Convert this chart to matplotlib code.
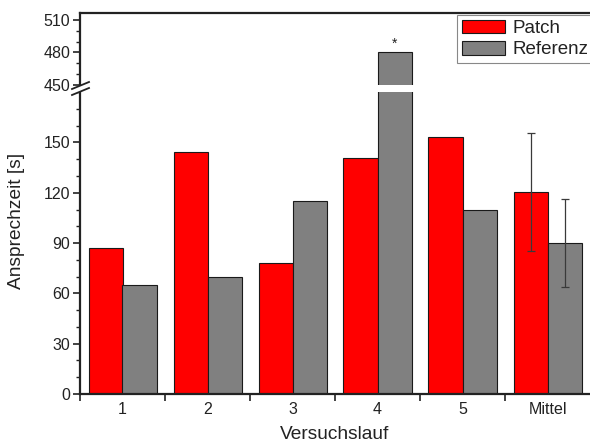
import numpy as np
import matplotlib
matplotlib.use("Agg")
import matplotlib.pyplot as plt
from matplotlib.patches import Rectangle, Polygon
from matplotlib.lines import Line2D
import matplotlib.transforms as mtransforms

plt.rcParams['font.family'] = ['Liberation Sans', 'DejaVu Sans']

categories = ["1", "2", "3", "4", "5", "Mittel"]
patch_vals = [87, 144, 78, 141, 153, 120.6]
referenz_vals = [65, 70, 115, 480, 110, 90]
patch_err = [None, None, None, None, None, 35.2]
referenz_err = [None, None, None, None, None, 26.1]
lower_ticks = [0, 30, 60, 90, 120, 150]
upper_ticks = [450, 480, 510]
lower_minor = [10, 20, 40, 50, 70, 80, 100, 110, 130, 140, 160, 170, 180]
upper_minor = [460, 470, 490, 500]

# piecewise scale for the broken y axis
BRK_LO, BRK_HI = 184.0, 450.0
SQUEEZE = 0.001
K_UP = 0.645
T_BRK = BRK_LO + (BRK_HI - BRK_LO) * SQUEEZE


def fwd(v):
    v = np.asarray(v, dtype=float)
    return np.where(v <= BRK_LO, v,
                    np.where(v < BRK_HI, BRK_LO + (v - BRK_LO) * SQUEEZE,
                             T_BRK + (v - BRK_HI) * K_UP))


def inv(t):
    t = np.asarray(t, dtype=float)
    return np.where(t <= BRK_LO, t,
                    np.where(t < T_BRK, BRK_LO + (t - BRK_LO) / SQUEEZE,
                             BRK_HI + (t - T_BRK) / K_UP))


W, H = 590, 448
fig = plt.figure(figsize=(W / 100, H / 100), dpi=100)
ax = fig.add_axes([80 / W, 1 - 394 / H, 510 / W, 381 / H])
ax.set_yscale('function', functions=(fwd, inv))
ax.set_xlim(0.5, 6.5)
ax.set_ylim(0, 516.5)

x = np.arange(1, len(categories) + 1)
bw = 0.4
red = '#ff0000'
grey = '#808080'
edge = '#1a1a1a'
ax.bar(x - bw / 2, patch_vals, bw, color=red, edgecolor=edge, linewidth=0.8,
       label='Patch', zorder=2)
ax.bar(x + bw / 2, referenz_vals, bw, color=grey, edgecolor=edge, linewidth=0.8,
       label='Referenz', zorder=2)

# error bars on the mean
for off, vals, errs in [(-bw / 2, patch_vals, patch_err), (bw / 2, referenz_vals, referenz_err)]:
    for i, e in enumerate(errs):
        if e is not None:
            ax.errorbar(x[i] + off, vals[i], yerr=e, fmt='none', ecolor='#3a3a3a',
                        elinewidth=0.9, capsize=3, capthick=0.9, zorder=3)

# marker for the outlier run
ax.annotate('*', xy=(x[3] + bw / 2, referenz_vals[3]), xytext=(0, 1),
            textcoords='offset points', ha='center', va='bottom', fontsize=10,
            color='#222222')

# white band across the break
blend = mtransforms.blended_transform_factory(ax.transAxes, ax.transData)
ax.add_patch(Rectangle((0, 180), 1, 4.2, transform=blend, facecolor='white',
                       edgecolor='none', zorder=4))

# spines
for s in ['left', 'bottom', 'top']:
    ax.spines[s].set_linewidth(1.6)
    ax.spines[s].set_color('#222222')
ax.spines['right'].set_visible(False)

# ticks
ax.set_yticks(lower_ticks + upper_ticks)
ax.set_yticks(lower_minor + upper_minor, minor=True)
ax.tick_params(axis='y', which='major', direction='out', length=5, width=1.2,
               labelsize=11.5, colors='#222222', pad=2)
ax.tick_params(axis='y', which='minor', direction='out', length=3, width=1.0,
               colors='#222222')
ax.set_xticks(np.arange(0.5, 6.0, 1.0))
ax.set_xticklabels([])
ax.set_xticks(x, minor=True)
ax.set_xticklabels(categories, minor=True)
ax.tick_params(axis='x', which='major', direction='out', length=5, width=1.2,
               colors='#222222')
ax.tick_params(axis='x', which='minor', length=0, labelsize=11.5, pad=6,
               colors='#222222')

ax.set_xlabel('Versuchslauf', fontsize=13.8, color='#222222', labelpad=6)
ax.set_ylabel('Ansprechzeit [s]', fontsize=13.8, color='#222222', labelpad=5)
ax.yaxis.set_label_coords(-0.108, (394 - 221) / 381)

# break marks on the left spine
def fig_pt(xp, yp):
    return (xp / W, 1 - yp / H)

gap = Polygon([fig_pt(72, 89), fig_pt(88, 82), fig_pt(88, 88), fig_pt(72, 95)],
              closed=True, transform=fig.transFigure, facecolor='white',
              edgecolor='none', zorder=10)
fig.add_artist(gap)
for dy in (0, 6):
    fig.add_artist(Line2D([72 / W, 89 / W], [1 - (89 + dy) / H, 1 - (82 + dy) / H],
                          transform=fig.transFigure, color='#222222', lw=1.3,
                          zorder=11))

leg = ax.legend(loc='upper left', bbox_to_anchor=((457 - 80) / 510, (394 - 15) / 381),
                borderaxespad=0, fontsize=13.5, frameon=True, fancybox=False,
                edgecolor='#888888', framealpha=1, handlelength=2.3,
                handleheight=0.75, handletextpad=0.4, borderpad=0.25,
                labelspacing=0.2)
leg.get_frame().set_linewidth(0.8)
for t in leg.get_texts():
    t.set_color('#222222')

fig.savefig('out.png', dpi=100)
